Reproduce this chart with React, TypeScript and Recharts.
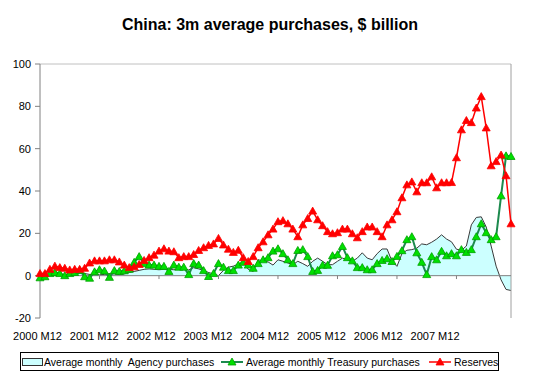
import { Area, ComposedChart, Line, ReferenceLine, XAxis, YAxis } from "recharts";

const FONT = "Arial, 'Liberation Sans', sans-serif";

// monthly categories, 2000 M12 .. 2008 M11
const months = Array.from({ length: 96 }, (_, i) => {
  const t = 2000 * 12 + 11 + i;
  return `${Math.floor(t / 12)} M${(t % 12) + 1}`;
});

const yearTicks = [
  "2000 M12",
  "2001 M12",
  "2002 M12",
  "2003 M12",
  "2004 M12",
  "2005 M12",
  "2006 M12",
  "2007 M12",
];

const yTicks = [-20, 0, 20, 40, 60, 80, 100];

const agency = [
  0, 0.3, 0.5, 0.8, 0.6, 0.4, 0.6, 0.8, 1.2, 1.0, 0.6, 0.5, 0.4, 0.6, 0.9, 0.8, 0.5, 0.8,
  1.5, 2, 2.5, 3, 3.2, 3, 2.8, 3, 3, 2.8, 3, 3.2, 2.7, 3.8, 3.2, 2.5, 1.5, 0.8, 0, 2.5,
  4, 4.5, 5.5, 6.5, 3, 2, 7.5, 7, 6.5, 5, 7.5,
  6.8, 6, 5.2, 6.8, 5.7, 4.4, 6.8, 8.3, 6.8, 5.2, 5.2, 6.8, 8.3, 7.5, 6.8, 8.3, 10.8, 8.3,
  7.5, 10.4, 12.6, 12.6, 6.8, 4.4, 10.4, 12, 12.3, 13, 15, 14.6, 15.8, 17.3, 19.3, 17.3, 16,
  12.5, 12, 14, 24, 27.5, 27.8, 23, 14, 4.5, -2, -6.5, -7,
];

const treasury = [
  -1, -0.5, 1, 1.5, 1, 0, 1, 1.5, 2.5, -0.5, -1.2, 1.8, 2.8, 2.2, -0.8, 2.4, 2, 2.3, 3,
  6.3, 9, 5.7, 5, 5, 4.4, 4.4, 2, 5, 4, 4, 0.5, 5.7, 5, 2.4, -0.4, 1, 5.7, 4, 2.4, 2.4,
  5, 6.3, 5, 3.5, 5.7, 7.5, 8.5, 11.6, 12.7,
  10.4, 7.5, 5.7, 11.9, 12.3, 9, 2, 2.5, 4.9, 4.9, 9.4, 9.9, 13.8, 8.5, 7, 3.8, 3.8, 2.8,
  2.8, 5.7, 7.2, 8, 6.7, 9.1, 11.8, 17, 18.4, 10.8, 6.3, 0.5, 9, 7.5, 11.5, 9.4, 10.4,
  9.4, 12.3, 11, 12.3, 18.4, 24.5, 20.3, 17, 18.4, 37.7, 56.6, 56.3,
];

const reserves = [
  1, 1, 3, 4.5, 3.8, 3.5, 2.7, 3, 3, 3.5, 6, 7, 7, 7, 7.5, 7.5, 6.5, 5, 3.8, 4.2,
  5.3, 7.2, 8.5, 9.7, 11.6, 12.7, 11.6, 11.3, 8.5, 9, 9, 10, 11.9, 13.2, 14.3, 15,
  17.6, 14.5, 12.5, 11, 12, 8.5, 6.7, 9, 13.2, 16, 19.3, 22, 25.5, 26, 24.5, 22, 18.4,
  24, 27, 30.5, 26.4, 23.6, 20.8, 19.8, 20.3, 22, 22, 19.8, 17.9, 20.8, 23, 23, 20.8,
  18.4, 24, 26.4, 30.2, 36.8, 42.9, 44.3, 39.6, 43.9, 43.9, 46.7, 41.5, 43.9, 43.9, 44,
  55.7, 68.9, 73.3, 72.3, 79.2, 84.6, 69.8, 51.9, 53.9, 57, 47.2, 24.5,
];

const data = months.map((month, i) => ({
  month,
  agency: agency[i],
  treasury: treasury[i],
  reserves: reserves[i],
}));

const GREEN_LINE = "#1d8a4e";
const GREEN_FILL = "#00e000";
const GREEN_EDGE = "#00a000";
const RED = "#ff0000";

function Tri({ cx, cy, fill, stroke }: any) {
  if (cx == null || cy == null) return null;
  return (
    <path
      d={`M${cx},${cy - 4}L${cx + 4},${cy + 3}L${cx - 4},${cy + 3}Z`}
      fill={fill}
      stroke={stroke}
      strokeWidth={0.8}
    />
  );
}

// Excel spread the year labels a little tighter than the ticks
function YearTick({ x, y, payload, index }: any) {
  const shift = -2.5 - 2.7 * (index ?? 0);
  return (
    <text
      x={x + shift}
      y={y + 20}
      textAnchor="middle"
      fontSize={11}
      fontFamily={FONT}
      fill="#000"
    >
      {payload.value}
    </text>
  );
}

function LegendBox() {
  const abs = (left: number) => ({
    position: "absolute" as const,
    left: left - 21,
    top: 0,
    height: 17,
    display: "flex",
    alignItems: "center",
    whiteSpace: "pre" as const,
  });
  return (
    <div
      style={{
        position: "absolute",
        left: 20,
        top: 352,
        width: 477,
        height: 17,
        border: "1px solid #000",
        background: "#fff",
        fontFamily: FONT,
        fontSize: 10.5,
        color: "#000",
      }}
    >
      <div style={abs(22)}>
        <span
          style={{
            display: "inline-block",
            width: 19,
            height: 6,
            background: "#ccffff",
            border: "1px solid #333",
          }}
        />
      </div>
      <div style={abs(44)}>Average monthly  Agency purchases</div>
      <div style={abs(221)}>
        <svg width={22} height={10}>
          <line x1={0} y1={5} x2={22} y2={5} stroke={GREEN_LINE} strokeWidth={2} />
          <Tri cx={11} cy={5} fill={GREEN_FILL} stroke={GREEN_EDGE} />
        </svg>
      </div>
      <div style={abs(246)}>Average monthly Treasury purchases</div>
      <div style={abs(429)}>
        <svg width={22} height={10}>
          <line x1={0} y1={5} x2={22} y2={5} stroke={RED} strokeWidth={1.5} />
          <Tri cx={11} cy={5} fill={RED} stroke={RED} />
        </svg>
      </div>
      <div style={abs(454)}>Reserves</div>
    </div>
  );
}

export default function App() {
  return (
    <div
      style={{
        position: "absolute",
        left: 0,
        top: 0,
        width: 547,
        height: 374,
        background: "#fff",
        fontFamily: FONT,
      }}
    >
      <div
        style={{
          position: "absolute",
          left: 0,
          top: 16,
          width: 540,
          textAlign: "center",
          fontWeight: "bold",
          fontSize: 16,
          lineHeight: "18px",
        }}
      >
        China: 3m average purchases, $ billion
      </div>
      <ComposedChart
        width={547}
        height={374}
        data={data}
        margin={{ top: 64, right: 36, left: 0, bottom: 0 }}
      >
        <XAxis
          dataKey="month"
          scale="point"
          ticks={yearTicks}
          interval={0}
          axisLine={false}
          tickLine={false}
          tickSize={0}
          height={56}
          tick={<YearTick />}
        />
        <YAxis
          type="number"
          domain={[-20, 100]}
          ticks={yTicks}
          width={40}
          tickSize={5}
          tickMargin={4}
          axisLine={{ stroke: "#808080" }}
          tickLine={{ stroke: "#808080" }}
          tick={{ fontSize: 11, fill: "#000", fontFamily: FONT }}
        />
        <ReferenceLine y={100} stroke="#c0c0c0" />
        <ReferenceLine x={months[months.length - 1]} stroke="#a0a0a0" />
        <Area
          type="linear"
          dataKey="agency"
          stroke="#3a3a3a"
          strokeWidth={1}
          fill="#ccffff"
          fillOpacity={1}
          isAnimationActive={false}
        />
        <ReferenceLine y={0} stroke="#808080" />
        {yearTicks.map((t) => (
          <ReferenceLine
            key={t}
            segment={[
              { x: t, y: 0 },
              { x: t, y: -1.6 },
            ]}
            stroke="#808080"
          />
        ))}
        <Line
          type="linear"
          dataKey="treasury"
          stroke={GREEN_LINE}
          strokeWidth={2}
          dot={<Tri fill={GREEN_FILL} stroke={GREEN_EDGE} />}
          activeDot={false}
          isAnimationActive={false}
        />
        <Line
          type="linear"
          dataKey="reserves"
          stroke={RED}
          strokeWidth={1.5}
          dot={<Tri fill={RED} stroke={RED} />}
          activeDot={false}
          isAnimationActive={false}
        />
      </ComposedChart>
      <LegendBox />
    </div>
  );
}
